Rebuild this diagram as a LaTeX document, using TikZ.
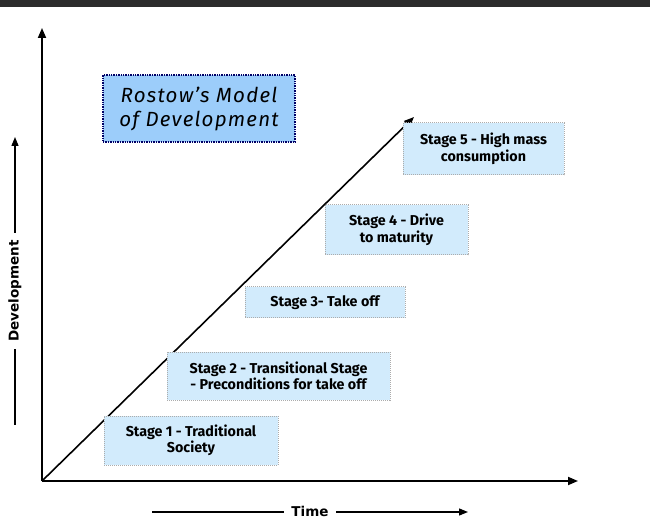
\documentclass[tikz,border=0pt]{standalone}
\usepackage{fontspec}
\setmainfont{Fira Sans}
\newfontfamily\axisfont{DejaVu Sans}
\newfontfamily\titlefont[LetterSpace=6]{Fira Sans}
\usetikzlibrary{arrows.meta}
\definecolor{titleblue}{HTML}{9CCDFA}
\definecolor{stageblue}{HTML}{D2EBFC}
\definecolor{topbar}{HTML}{2C2C2C}

\begin{document}
\begin{tikzpicture}[x=1pt, y=-1pt, line width=1.8pt, >={Triangle[length=10pt,width=8pt]},
    stagebox/.style={draw=gray!65, densely dotted, line width=1pt, fill=stageblue, align=center, inner sep=0pt,
        font=\fontsize{14.3}{16.5}\selectfont\bfseries},
    axislabel/.style={font=\axisfont\fontsize{13.5}{15}\selectfont\bfseries, inner xsep=7pt, inner ysep=0pt}]
        \useasboundingbox (0, 0) rectangle (650, 518);
        \fill[topbar] (0, 0) rectangle (650, 7);

        \coordinate(Origin) at (42, 481);
        \coordinate(DevTop) at (42, 28);
        \coordinate(TimeEnd) at (578, 481);
        \coordinate(GrowthEnd) at (414, 117);
        \draw[->] (Origin) -- (DevTop);
        \draw[->] (Origin) -- (TimeEnd);
        \draw[->, line width=1.6pt] (Origin) -- (GrowthEnd);

        \node(Title)[draw=blue!40!black, densely dotted, line width=1.4pt, fill=titleblue, minimum width=192pt, minimum height=67pt,
            align=center, inner sep=0pt, font=\titlefont\fontsize{20.5}{24}\selectfont\itshape] at (199, 108.5) {Rostow’s Model\\of Development};

        \node(HighMass)[stagebox, minimum width=161pt, minimum height=52pt] at (483.5, 149) {Stage 5 - High mass\\consumption};
        \node(DriveMaturity)[stagebox, minimum width=143pt, minimum height=50pt] at (396.5, 230) {Stage 4 - Drive\\to maturity};
        \node(TakeOff)[stagebox, minimum width=160pt, minimum height=31pt] at (325, 302.5) {Stage 3- Take off};
        \node(Preconditions)[stagebox, minimum width=223pt, minimum height=48pt] at (278.5, 376) {Stage 2 - Transitional Stage\\- Preconditions for take off};
        \node(Traditional)[stagebox, minimum width=174pt, minimum height=49pt] at (191, 440.5) {Stage 1 - Traditional\\Society};

        % axis captions
        \node(Time)[axislabel] at (310, 511) {Time};
        \coordinate(TimeStart) at (152, 512);
        \coordinate(TimeTip) at (468, 512);
        \draw[line width=1.3pt] (TimeStart) -- (TimeStart -| Time.west);
        \draw[->, line width=1.3pt, >={Triangle[length=9pt,width=7pt]}] (TimeStart -| Time.east) -- (TimeTip);

        \node(Development)[axislabel, rotate=90] at (15, 291) {Development};
        \coordinate(DevArrowTip) at (15, 137);
        \coordinate(DevStart) at (15, 425);
        \draw[->, line width=1.3pt, >={Triangle[length=9pt,width=7pt]}] (Development.east) -- (DevArrowTip);
        \draw[line width=1.3pt] (Development.west) -- (DevStart);
    \end{tikzpicture}
\end{document}
